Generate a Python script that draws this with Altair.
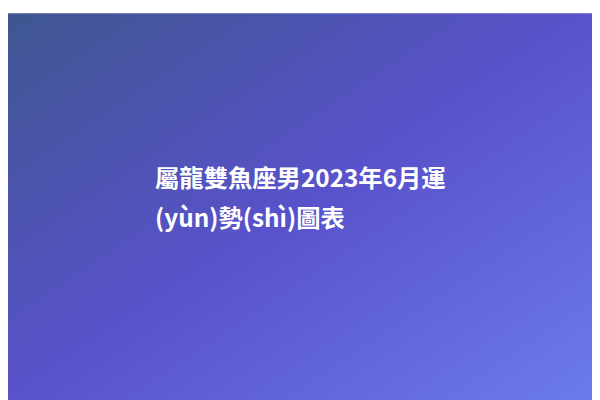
import altair as alt
import pandas as pd

# Text content of the card
title_lines = ["屬龍雙魚座男2023年6月運", "(yùn)勢(shì)圖表"]

# Background gradient colours (top-left -> middle -> bottom-right)
grad_colors = ["#3f5690", "#5952cb", "#6c7bec"]
grad_offsets = [0.0, 0.5, 1.0]

df = pd.DataFrame({"k": [0]})

gradient = alt.LinearGradient(
    gradient="linear",
    x1=0, y1=0, x2=1, y2=1,
    stops=[alt.GradientStop(offset=o, color=c) for o, c in zip(grad_offsets, grad_colors)],
)

background = alt.Chart(df).mark_rect(fill=gradient, strokeWidth=0).encode(
    x=alt.value(0),
    x2=alt.value(600),
    y=alt.value(0),
    y2=alt.value(400),
)

text = alt.Chart(df).mark_text(
    align="left",
    baseline="alphabetic",
    font="Noto Sans CJK SC",
    fontSize=25,
    fontWeight=700,
    color="white",
    lineHeight=42,
).encode(
    x=alt.value(151),
    y=alt.value(178),
    text=alt.value(title_lines),
)

chart = alt.layer(background, text).properties(
    width=600,
    height=400,
    padding=0,
    autosize=alt.AutoSizeParams(type="none"),
).configure_view(
    strokeWidth=0,
)

chart.save("out.html", embed_options={"renderer": "svg", "actions": False})
